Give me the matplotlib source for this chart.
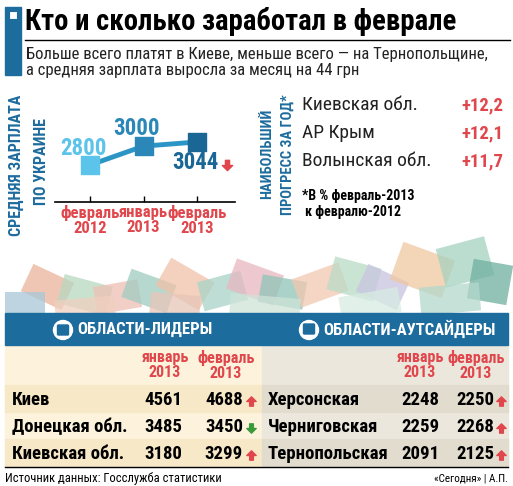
import matplotlib
matplotlib.use("Agg")
import matplotlib.pyplot as plt
from matplotlib.patches import Rectangle, Circle, FancyBboxPatch
from matplotlib.path import Path
import matplotlib.transforms as mtransforms

# data
months = ["февраль\n2012", "январь\n2013", "февраль\n2013"]
avg_salary = [2800, 3000, 3044]

progress_regions = ["Киевская обл.", "АР Крым", "Волынская обл."]
progress_values = ["+12,2", "+12,1", "+11,7"]

leaders = ["Киев", "Донецкая обл.", "Киевская обл."]
leaders_jan = [4561, 3485, 3180]
leaders_feb = [4688, 3450, 3299]

outsiders = ["Херсонская", "Черниговская", "Тернопольская"]
outsiders_jan = [2248, 2259, 2091]
outsiders_feb = [2250, 2268, 2125]

BLUE = "#1d6c9e"
RED = "#e0474c"
GREEN = "#3a9a3a"

plt.rcParams["font.family"] = ["Roboto Condensed", "DejaVu Sans"]

UP = Path([(-1, 0), (0, 1), (1, 0), (0.4, 0), (0.4, -1), (-0.4, -1), (-0.4, 0), (-1, 0)],
          closed=True)
DOWN = Path([(x, -y) for x, y in UP.vertices], closed=True)

fig = plt.figure(figsize=(5.13, 4.86), dpi=100)
ax = fig.add_axes([0, 0, 1, 1])
ax.set_xlim(0, 513)
ax.set_ylim(486, 0)
ax.axis("off")

# header
ax.add_patch(Rectangle((5, 7), 16, 68, color=BLUE))
ax.add_patch(Rectangle((8.5, 11), 8, 8, facecolor="white", edgecolor=BLUE, lw=0.8))
ax.text(25, 21, "Кто и сколько заработал в феврале", fontsize=20.7,
        fontweight="bold", va="center", ha="left")
ax.plot([25, 510], [40, 40], color="black", lw=1)
ax.text(26, 55, "Больше всего платят в Киеве, меньше всего — на Тернопольщине,",
        fontsize=12, va="center", color="#222222")
ax.text(26, 71, "а средняя зарплата выросла за месяц на 44 грн",
        fontsize=12, va="center", color="#222222")

# left block: rotated labels
ax.text(16, 165, "СРЕДНЯЯ ЗАРПЛАТА", rotation=90, fontsize=11.5, fontweight="bold",
        color=BLUE, ha="center", va="center")
ax.text(41, 162, "ПО УКРАИНЕ", rotation=90, fontsize=11.5, fontweight="bold",
        color=BLUE, ha="center", va="center")

# line chart
lax = fig.add_axes([55 / 513, 1 - 202 / 486, 180 / 513, 72 / 486])
lax.set_xlim(-0.654, 2.71)
lax.set_ylim(2408, 3171)
xs = list(range(len(avg_salary)))
lax.plot(xs, avg_salary, color="#2b96c6", lw=3.5, zorder=2)
pt_colors = ["#5cc3ea", "#2b87b8", "#1a6796"]
for i, v in enumerate(avg_salary):
    lax.scatter(i, v, marker="s", s=150, color=pt_colors[i], zorder=3)
offsets = [(-4.5, 12), (-5, 13), (-1, -14.5)]
for i, v in enumerate(avg_salary):
    lax.annotate(str(v), (i, v), xytext=offsets[i], textcoords="offset points",
                 ha="center", va="center", fontsize=16.5, fontweight="bold",
                 color=pt_colors[i], zorder=4)
for s in ["top", "right", "left"]:
    lax.spines[s].set_visible(False)
lax.spines["bottom"].set_linewidth(1.2)
lax.set_yticks([])
lax.set_xticks(xs)
lax.set_xticklabels(months, color=RED, fontsize=12, fontweight="bold",
                    linespacing=1.0)
lax.tick_params(axis="x", direction="in", length=4, width=1, pad=2)
lax.patch.set_alpha(0)
ax.scatter([227], [165], marker=DOWN, s=55, color=RED, zorder=5)

# right block: progress list
ax.text(267, 154, "НАИБОЛЬШИЙ", rotation=90, fontsize=10.5, fontweight="bold",
        color=BLUE, ha="center", va="center")
ax.text(288, 155, "ПРОГРЕСС ЗА ГОД*", rotation=90, fontsize=10.5, fontweight="bold",
        color=BLUE, ha="center", va="center")
for i, (r, v) in enumerate(zip(progress_regions, progress_values)):
    y = 105 + i * 28
    ax.text(302, y, r, fontsize=14, va="center", color="#222222")
    ax.text(503, y, v, fontsize=13.5, va="center", ha="right", color=RED,
            fontweight="bold")
ax.text(302, 196, "*В % февраль-2013", fontsize=10, fontweight="bold", va="center")
ax.text(305, 212, "к февралю-2012", fontsize=10, fontweight="bold", va="center")

# banknotes decoration
notes = [
    (25, 272, 45, 30, 25, "#e9b39a"), (60, 280, 50, 30, 15, "#b8d8c0"),
    (95, 283, 45, 28, -10, "#eec0b4"), (125, 276, 48, 30, 20, "#9fcbc0"),
    (160, 268, 50, 32, 30, "#f0c2a8"), (200, 276, 45, 30, -15, "#a9d4c8"),
    (230, 266, 50, 32, 20, "#e7b7c0"), (260, 278, 45, 28, 10, "#8fc4b8"),
    (295, 270, 50, 30, -20, "#f2c8b0"), (330, 262, 48, 34, 15, "#b9dcc6"),
    (360, 272, 45, 30, 25, "#c8c4e0"), (395, 250, 55, 40, 20, "#f0c7a0"),
    (440, 242, 50, 40, -15, "#a5d2bf"), (470, 262, 40, 40, 10, "#6faf9f"),
    (5, 292, 40, 25, 0, "#a8c8d8"), (340, 292, 60, 25, -10, "#d7ebe2"),
    (150, 294, 50, 24, 5, "#e8c6b8"), (420, 285, 60, 28, -5, "#b4d8cc"),
    (55, 298, 60, 20, -5, "#f0d0c0"), (230, 296, 70, 22, 5, "#cfe3d8"),
]
for x, y, w, h, ang, c in notes:
    tr = mtransforms.Affine2D().rotate_deg_around(x + w / 2, y + h / 2, ang) + ax.transData
    ax.add_patch(Rectangle((x, y), w, h, facecolor=c, edgecolor="none",
                           alpha=0.75, transform=tr, zorder=1))

# table header bar
ax.add_patch(Rectangle((5, 313), 503, 32, color=BLUE, zorder=3))
for cx, flip, label in [(63, False, "ОБЛАСТИ-ЛИДЕРЫ"), (309, True, "ОБЛАСТИ-АУТСАЙДЕРЫ")]:
    ax.add_patch(Circle((cx, 330), 9.5, color="white", zorder=4))
    ax.add_patch(FancyBboxPatch((cx - 4.5, 326 if not flip else 325), 9, 8,
                                boxstyle="round,pad=1", color=BLUE, zorder=5))
    ax.text(cx + 14, 329, label, fontsize=12, fontweight="bold", color="white",
            va="center", zorder=5)

# table panels
ax.add_patch(Rectangle((5, 345), 257, 122, color="#fdf3dc", zorder=2))
ax.add_patch(Rectangle((262, 345), 246, 122, color="#ece7dd", zorder=2))
for i in (0, 2):
    y0 = 385 + i * 27
    ax.add_patch(Rectangle((5, y0), 257, 27, color="#f7e8c8", zorder=2))
    ax.add_patch(Rectangle((262, y0), 246, 27, color="#e2dccf", zorder=2))
ax.plot([5, 508], [467, 467], color="black", lw=1, zorder=3)

col_heads = ["январь\n2013", "февраль\n2013"]
for cols in [(165, 226), (420, 476)]:
    for cx, h in zip(cols, col_heads):
        ax.text(cx, 365, h, fontsize=11.5, fontweight="bold", color=RED,
                ha="center", va="center", linespacing=1.0, zorder=4)


def draw_rows(names, jan, feb, x_name, x_jan, x_feb, x_arrow):
    for i, (n, a, b) in enumerate(zip(names, jan, feb)):
        y = 400 + i * 27
        ax.text(x_name, y, n, fontsize=13.5, fontweight="bold", va="center", zorder=4)
        ax.text(x_jan, y, str(a), fontsize=13.5, fontweight="bold", va="center",
                ha="center", zorder=4)
        ax.text(x_feb, y, str(b), fontsize=13.5, fontweight="bold", va="center",
                ha="right", zorder=4)
        up = b > a
        ax.scatter([x_arrow], [y + 1], marker=UP if up else DOWN, s=45,
                   color=RED if up else GREEN, zorder=5)


draw_rows(leaders, leaders_jan, leaders_feb, 12, 163, 243, 251)
draw_rows(outsiders, outsiders_jan, outsiders_feb, 268, 420, 494, 501)

# footer
ax.text(5, 478, "Источник данных: Госслужба статистики", fontsize=9, va="center")
ax.text(508, 478, "«Сегодня» | А.П.", fontsize=8, va="center", ha="right")

fig.savefig("out.png", dpi=100)
